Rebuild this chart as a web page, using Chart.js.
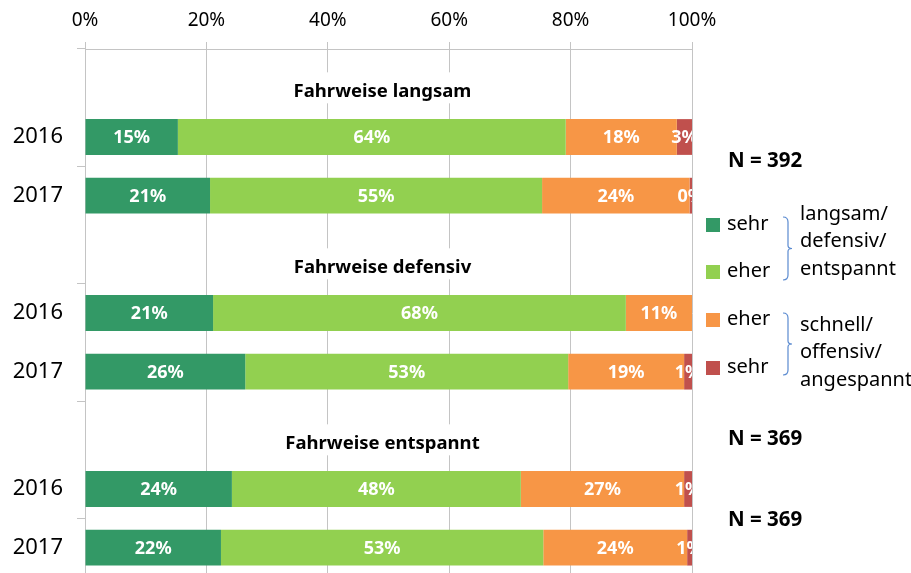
<!DOCTYPE html>
<html lang="de">
<head>
    <meta charset="UTF-8">
    <title>Fahrweise 2016 / 2017</title>
    <script src="https://cdn.jsdelivr.net/npm/chart.js"></script>
    <style>
        html, body { margin: 0; padding: 0; background: #fff; overflow: hidden; }
        .wrap { width: 911px; height: 573px; overflow: hidden; }
        canvas { display: block; }
    </style>
</head>
<body>
    <div class="wrap"><canvas id="chart" width="911" height="580"></canvas></div>
    <script>
        // rows: group title row, 2016, 2017 (three times)
        const rowLabels = ['', '2016', '2017', '', '2016', '2017', '', '2016', '2017'];
        const groupTitles = ['Fahrweise langsam', 'Fahrweise defensiv', 'Fahrweise entspannt'];
        const groupTitleRows = [0, 3, 6];
        const seriesNames = ['sehr', 'eher', 'eher', 'sehr'];
        const seriesColors = ['#339966', '#92d050', '#f79646', '#c0504d'];

        const sehrLangsam = [null, 15.3, 20.6, null, 21.1, 26.4, null, 24.2, 22.4];
        const eherLangsam = [null, 63.9, 54.7, null, 68.0, 53.2, null, 47.6, 53.1];
        const eherSchnell = [null, 18.3, 24.3, null, 10.9, 19.1, null, 26.9, 23.7];
        const sehrSchnell = [null, 2.5, 0.4, null, 0, 1.3, null, 1.3, 0.8];

        const xTicks = [0, 20, 40, 60, 80, 100];
        const sampleSizes = ['N = 392', 'N = 369', 'N = 369'];
        const groupTexts = [['langsam/', 'defensiv/', 'entspannt'], ['schnell/', 'offensiv/', 'angespannt']];

        const FONT = "'Noto Sans', sans-serif";
        Chart.defaults.font.family = FONT;
        Chart.defaults.color = '#000';

        const extras = {
            id: 'extras',
            beforeDatasetsDraw(chart) {
                // group titles with white box over the grid
                const ctx = chart.ctx, y = chart.scales.y, a = chart.chartArea;
                ctx.save();
                ctx.font = 'bold 18.5px ' + FONT;
                ctx.textAlign = 'center';
                ctx.textBaseline = 'middle';
                groupTitles.forEach((t, i) => {
                    const cy = y.getPixelForValue(groupTitleRows[i]) + 13;
                    const cx = (a.left + a.right) / 2 - 6;
                    const w = ctx.measureText(t).width;
                    ctx.fillStyle = '#fff';
                    ctx.fillRect(cx - w / 2 - 8, cy - 19, w + 16, 31);
                    ctx.fillStyle = '#000';
                    ctx.fillText(t, cx, cy);
                });
                ctx.restore();
            },
            afterDatasetsDraw(chart) {
                const ctx = chart.ctx, a = chart.chartArea;
                ctx.save();
                ctx.beginPath();
                ctx.rect(a.left, a.top, a.right - a.left, a.bottom - a.top);
                ctx.clip();
                ctx.font = 'bold 18px ' + FONT;
                ctx.fillStyle = '#fff';
                ctx.textAlign = 'center';
                ctx.textBaseline = 'middle';
                chart.data.datasets.forEach((ds, di) => {
                    chart.getDatasetMeta(di).data.forEach((bar, i) => {
                        const v = ds.data[i];
                        if (v === null || v <= 0) return;
                        ctx.fillText(Math.round(v) + '%', (bar.x + bar.base) / 2, bar.y + 1);
                    });
                });
                ctx.restore();
            },
            afterDraw(chart) {
                const ctx = chart.ctx;
                ctx.save();
                // legend
                const legendY = [225, 272, 320, 368];
                ctx.font = '20px ' + FONT;
                ctx.textBaseline = 'middle';
                ctx.textAlign = 'left';
                seriesNames.forEach((n, i) => {
                    ctx.fillStyle = seriesColors[i];
                    ctx.fillRect(706, legendY[i] - 7, 14, 14);
                    ctx.fillStyle = '#000';
                    ctx.fillText(n, 727, legendY[i] - 1);
                });
                // brackets
                ctx.strokeStyle = '#5a8ad0';
                ctx.lineWidth = 1.2;
                [[217, 280], [313, 375]].forEach(([t, b]) => {
                    const m = (t + b) / 2;
                    ctx.beginPath();
                    ctx.moveTo(783, t);
                    ctx.quadraticCurveTo(788, t, 788, t + 5);
                    ctx.lineTo(788, m - 3);
                    ctx.quadraticCurveTo(788, m, 792, m);
                    ctx.quadraticCurveTo(788, m, 788, m + 3);
                    ctx.lineTo(788, b - 5);
                    ctx.quadraticCurveTo(788, b, 783, b);
                    ctx.stroke();
                });
                const textTop = [214, 325];
                groupTexts.forEach((lines, g) => {
                    lines.forEach((l, k) => ctx.fillText(l, 800, textTop[g] + k * 27.5));
                });
                // sample sizes
                ctx.font = 'bold 20.5px ' + FONT;
                [161, 439, 520].forEach((yy, i) => ctx.fillText(sampleSizes[i], 728, yy));
                ctx.restore();
            }
        };

        new Chart(document.getElementById('chart'), {
            type: 'bar',
            data: {
                labels: rowLabels,
                datasets: [sehrLangsam, eherLangsam, eherSchnell, sehrSchnell].map((d, i) => ({
                    label: seriesNames[i],
                    data: d,
                    backgroundColor: seriesColors[i],
                    borderWidth: 0,
                    categoryPercentage: 1,
                    barPercentage: 0.61
                }))
            },
            options: {
                indexAxis: 'y',
                responsive: false,
                animation: false,
                layout: { padding: { top: 0, right: 219, bottom: 3, left: 0 } },
                plugins: { legend: { display: false }, tooltip: { enabled: false } },
                scales: {
                    x: {
                        position: 'top',
                        stacked: true,
                        min: 0,
                        max: 100,
                        afterBuildTicks: s => { s.ticks = xTicks.map(v => ({ value: v })); },
                        afterFit: s => { s.height = 49; },
                        ticks: {
                            callback: v => v + '%',
                            font: { size: 19 },
                            color: '#000',
                            padding: 10
                        },
                        grid: { color: '#c4c4c4', tickLength: 7, lineWidth: 1 },
                        border: { display: true, color: '#c4c4c4' }
                    },
                    y: {
                        stacked: true,
                        afterFit: s => { s.width = 85; s.paddingTop = 0; s.paddingBottom = 0; },
                        ticks: { font: { size: 22 }, color: '#000', padding: 14 },
                        grid: {
                            drawOnChartArea: false,
                            tickLength: 8,
                            tickColor: c => (c.index % 2 === 0 ? '#c4c4c4' : 'rgba(0,0,0,0)')
                        },
                        border: { display: true, color: '#c4c4c4' }
                    }
                }
            },
            plugins: [extras]
        });
    </script>
</body>
</html>
